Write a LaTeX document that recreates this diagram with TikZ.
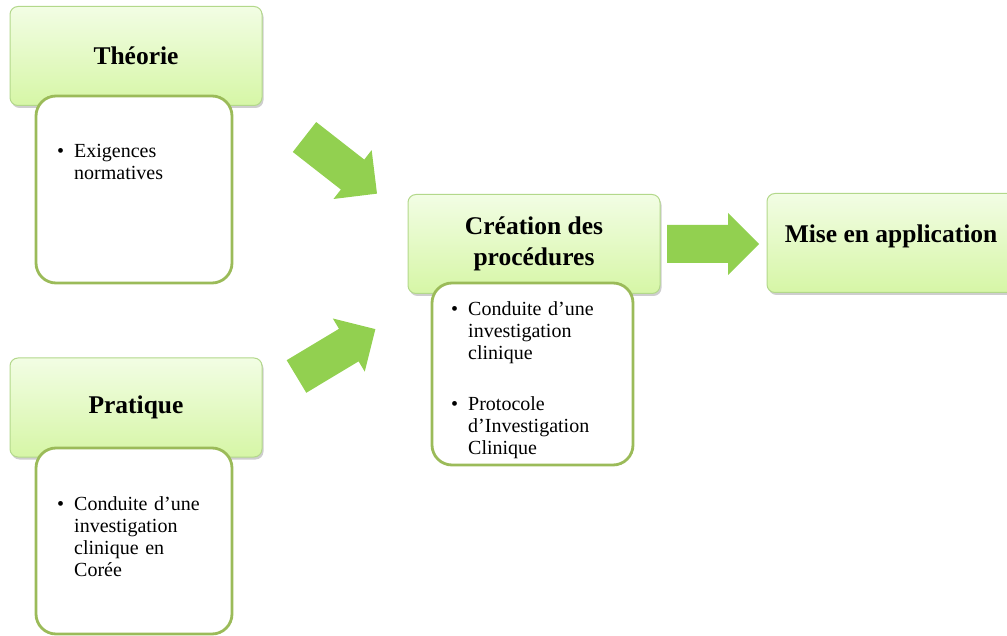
\documentclass[tikz,border=0pt]{standalone}
\usepackage{fontspec}
\setmainfont{Liberation Serif}
\usetikzlibrary{shadows}
\definecolor{arrowgreen}{HTML}{92D050}
\definecolor{headborder}{HTML}{B3D88B}
\definecolor{headtop}{HTML}{F2FDE4}
\definecolor{headbot}{HTML}{D6F6A6}
\definecolor{bodyborder}{HTML}{9BBB59}
\newcommand\hdrfont{\fontsize{25.5}{31}\selectfont\bfseries}
\newcommand\txtfont{\fontsize{20}{22}\selectfont}
\newcommand\bul{\hspace*{-17pt}\makebox[17pt][l]{\textbullet}}
\tikzset{
  headbox/.style={rectangle, rounded corners=8pt, draw=headborder, line width=1pt,
    top color=headtop, bottom color=headbot, minimum width=252pt, minimum height=99pt,
    align=center, inner sep=0pt, font=\hdrfont,
    drop shadow={shadow xshift=1.5pt, shadow yshift=-2.5pt, opacity=0.35, fill=black!55}},
  bodybox/.style={rectangle, rounded corners=20pt, draw=bodyborder, line width=2.8pt,
    fill=white, inner sep=0pt},
  itemtext/.style={anchor=base west, text width=190pt, align=left, inner sep=0pt, font=\txtfont},
  pics/blockarrow/.style={code={
    \fill[arrowgreen] (0,-19) -- (61,-19) -- (61,-31) -- (92,0) -- (61,31) -- (61,19) -- (0,19) -- cycle;}}
}
\begin{document}
\begin{tikzpicture}[x=1pt,y=-1pt]
\useasboundingbox (0,0) rectangle (1007,636);
\clip (0,0) rectangle (1007,636);

% headers
\node[headbox] (theorie) at (136,56) {Théorie};
\node[headbox] (pratique) at (136,407.5) {Pratique};
\node[headbox] (creation) at (534,244) {Création des\\procédures};
\node[headbox] (mise) at (893,243) {};
\node[font=\hdrfont, anchor=base, inner sep=0pt] (misetxt) at (891,243) {Mise en application};

% bodies
\node[bodybox, minimum width=196pt, minimum height=187pt] (theoriebody) at (134,189.5) {};
\node[bodybox, minimum width=196pt, minimum height=186pt] (pratiquebody) at (134,541) {};
\node[bodybox, minimum width=201pt, minimum height=182pt] (creationbody) at (532.5,374) {};

% texts
\node[itemtext] (t1) at (57,158) {\leftskip=17pt\bul Exigences\\normatives\par};
\node[itemtext] (t2) at (57,510) {\leftskip=17pt\bul Conduite d’une\\investigation\\clinique en\\Corée\par};
\node[itemtext] (t3) at (450,316) {\leftskip=18pt\bul Conduite d’une\\investigation\\clinique\\[29pt]\bul Protocole\\d’Investigation\\Clinique\par};

% arrows
\pic[rotate=-38] at (304.5,137) {blockarrow};
\pic[rotate=31] at (296.5,376.5) {blockarrow};
\pic at (667,244) {blockarrow};
\end{tikzpicture}
\end{document}
